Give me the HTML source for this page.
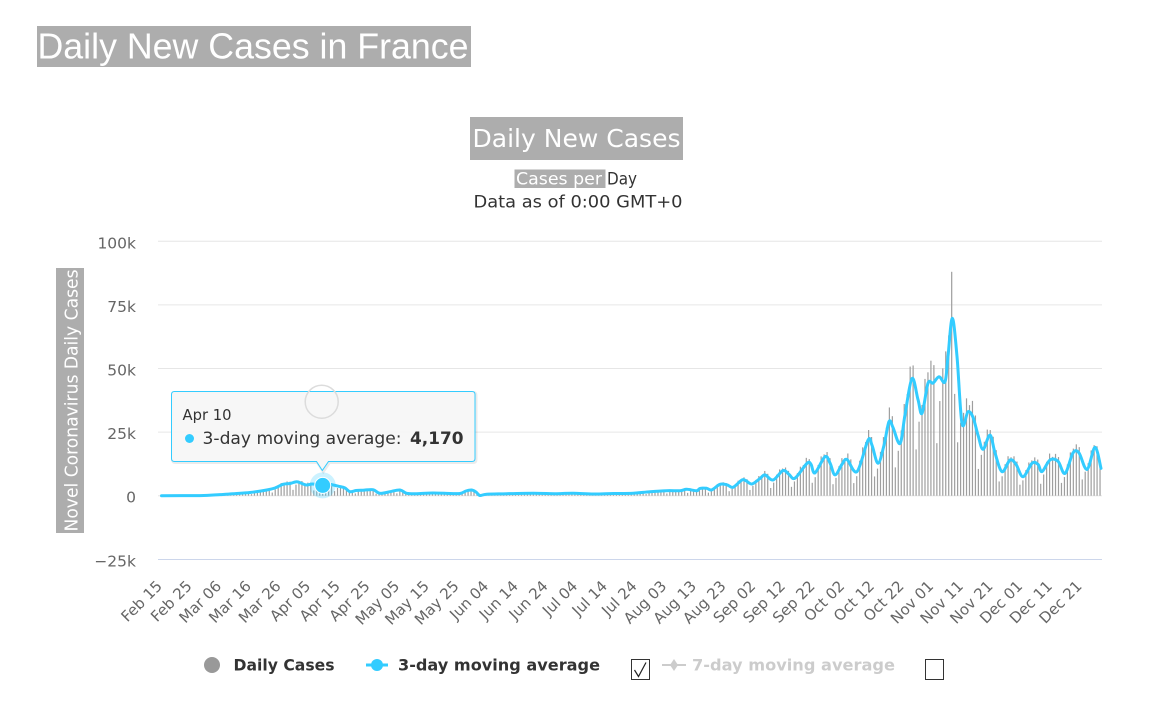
<!DOCTYPE html>
<html><head><meta charset="utf-8">
<style>
html,body{margin:0;padding:0;background:#fff;width:1175px;height:726px;overflow:hidden}
svg{display:block}
text{font-family:"DejaVu Sans","Liberation Sans",sans-serif}
.ax text{font-size:15px;fill:#666}
.yl text{font-size:15.5px;fill:#666}
</style></head><body>
<svg width="1175" height="726" viewBox="0 0 1175 726" xmlns="http://www.w3.org/2000/svg">
<!-- page title -->
<rect x="37" y="26" width="434" height="41" fill="#adadad"/>
<text x="37.5" y="58.5" style="font-family:'Liberation Sans',Arial,sans-serif" font-size="36" fill="#fff" textLength="431" lengthAdjust="spacingAndGlyphs">Daily New Cases in France</text>

<!-- chart title -->
<rect x="470" y="117" width="213" height="43" fill="#adadad"/>
<text x="576.5" y="147" text-anchor="middle" font-size="25" fill="#fff" textLength="208" lengthAdjust="spacingAndGlyphs">Daily New Cases</text>
<rect x="514.5" y="169.5" width="91" height="18.5" fill="#adadad"/>
<text x="516" y="184.5" font-size="16.5" fill="#fff" textLength="86" lengthAdjust="spacingAndGlyphs">Cases per</text>
<text x="607" y="184.5" font-size="16.5" fill="#333" textLength="30" lengthAdjust="spacingAndGlyphs">Day</text>
<text x="473.5" y="207.5" font-size="16.5" fill="#333" textLength="209" lengthAdjust="spacingAndGlyphs">Data as of 0:00 GMT+0</text>

<!-- grid -->
<path d="M158 241.3H1102M158 304.9H1102M158 368.5H1102M158 432.1H1102M158 495.7H1102" stroke="#e6e6e6" stroke-width="1" fill="none"/>
<path d="M158 559.5H1102" stroke="#ccd6eb" stroke-width="1" fill="none"/>

<!-- y labels -->
<g class="yl" text-anchor="end">
<text x="136" y="248.3">100k</text>
<text x="136" y="311.9">75k</text>
<text x="136" y="375.5">50k</text>
<text x="136" y="439.1">25k</text>
<text x="136" y="502.7">0</text>
<text x="136" y="566.5">−25k</text>
</g>

<!-- y title -->
<rect x="56" y="268" width="28" height="265" fill="#adadad"/>
<text transform="translate(77.5,400.5) rotate(-90)" text-anchor="middle" font-size="17.5" fill="#fff" textLength="262" lengthAdjust="spacingAndGlyphs">Novel Coronavirus Daily Cases</text>

<!-- x labels -->
<g class="ax" text-anchor="end">
<text transform="translate(163,587) rotate(-45)">Feb 15</text>
<text transform="translate(192.7,587) rotate(-45)">Feb 25</text>
<text transform="translate(222.3,587) rotate(-45)">Mar 06</text>
<text transform="translate(252,587) rotate(-45)">Mar 16</text>
<text transform="translate(281.7,587) rotate(-45)">Mar 26</text>
<text transform="translate(311.4,587) rotate(-45)">Apr 05</text>
<text transform="translate(341,587) rotate(-45)">Apr 15</text>
<text transform="translate(370.7,587) rotate(-45)">Apr 25</text>
<text transform="translate(400.4,587) rotate(-45)">May 05</text>
<text transform="translate(430,587) rotate(-45)">May 15</text>
<text transform="translate(459.7,587) rotate(-45)">May 25</text>
<text transform="translate(489.4,587) rotate(-45)">Jun 04</text>
<text transform="translate(519,587) rotate(-45)">Jun 14</text>
<text transform="translate(548.7,587) rotate(-45)">Jun 24</text>
<text transform="translate(578.4,587) rotate(-45)">Jul 04</text>
<text transform="translate(608.1,587) rotate(-45)">Jul 14</text>
<text transform="translate(637.7,587) rotate(-45)">Jul 24</text>
<text transform="translate(667.4,587) rotate(-45)">Aug 03</text>
<text transform="translate(697.1,587) rotate(-45)">Aug 13</text>
<text transform="translate(726.7,587) rotate(-45)">Aug 23</text>
<text transform="translate(756.4,587) rotate(-45)">Sep 02</text>
<text transform="translate(786.1,587) rotate(-45)">Sep 12</text>
<text transform="translate(815.7,587) rotate(-45)">Sep 22</text>
<text transform="translate(845.4,587) rotate(-45)">Oct 02</text>
<text transform="translate(875.1,587) rotate(-45)">Oct 12</text>
<text transform="translate(904.8,587) rotate(-45)">Oct 22</text>
<text transform="translate(934.4,587) rotate(-45)">Nov 01</text>
<text transform="translate(964.1,587) rotate(-45)">Nov 11</text>
<text transform="translate(993.8,587) rotate(-45)">Nov 21</text>
<text transform="translate(1023.4,587) rotate(-45)">Dec 01</text>
<text transform="translate(1053.1,587) rotate(-45)">Dec 11</text>
<text transform="translate(1082.8,587) rotate(-45)">Dec 21</text>
</g>

<!-- bars -->
<g id="bars" fill="#9e9e9e"></g>

<!-- 3-day average line -->
<path id="avg" fill="none" stroke="#33ccff" stroke-width="3" stroke-linejoin="round" stroke-linecap="round" d="M161.5,495.7L200,495.6L220,494.6L233,493.8L250,492.5L266.7,490L275,488L283,484.3L290,483.5L296.7,481.7L302,483.5L306.7,485L313,484L322.7,485.4L330,484.5L340,486.6L345,488L350,491.7L356,490.5L363,490.2L373,489.7L380,493.3L390,491.7L400,490L406.7,493.3L416.7,493.7L433,493L450,493.5L460,493.5L466,491L471.7,490L476,492L480,495.5L486.7,494.2L506.7,493.7L533.3,493.2L556.7,493.7L573.3,493.2L593.3,494L613.3,493.5L633.3,493.2L650,491.7L666.7,490.7L680,490.7L686.7,489.3L696.7,490.7L700,488.4L706.7,488.3L711.7,489.9L720,484.3L727,484.8L733,487.3L742,480L746,480.8L752,484L760,478.5L765,474.9L773,480L783,470.6L789,474.4L795,478.2L807,463.3L811,464.3L815,472.9L825,456.7L830,463L835,474.9L842,464.3L847,459.5L857,471.6L868,440.2L872,445.2L878,463.3L884,445.2L889,421.6L893,427.5L900,443.5L905,414.8L912,378.5L918,399.6L922,413.3L928,383.3L933,383.1L939,376.7L945,381.8L948,356.4L952.3,318.3L957,356.4L962,423.4L968,411.7L973,417.3L978,435.1L983,449.3L990,435.1L995,452.9L1002,471.6L1010,460L1016,464.3L1023,476.7L1032,463.3L1038,464.3L1042,471.6L1050,460L1058,461.2L1065,473.4L1073,452.9L1079,452.9L1087,469.4L1095,447.3L1101,468.3"/>

<!-- hover marker -->
<circle cx="322.7" cy="485.4" r="13" fill="#33ccff" fill-opacity="0.25"/>
<circle cx="322.7" cy="485.4" r="8" fill="#33ccff" stroke="#fff" stroke-width="1"/>

<!-- tooltip -->
<path d="M175.5,392.5 H473 Q476,392.5 476,395.5 V459.5 Q476,462.5 473,462.5 H329.5 L323.3,471.5 L317.5,462.5 H175.5 Q172.5,462.5 172.5,459.5 V395.5 Q172.5,392.5 175.5,392.5 Z" fill="none" stroke="#000" stroke-opacity="0.08" stroke-width="3"/>
<path d="M174.5,391.5 H472 Q475,391.5 475,394.5 V458.5 Q475,461.5 472,461.5 H328.5 L322.3,470.5 L316.5,461.5 H174.5 Q171.5,461.5 171.5,458.5 V394.5 Q171.5,391.5 174.5,391.5 Z" fill="#f7f7f7" fill-opacity="0.95" stroke="#33ccff" stroke-width="1"/>
<text x="182.5" y="420" font-size="15" fill="#333" textLength="49" lengthAdjust="spacingAndGlyphs">Apr 10</text>
<circle cx="189.5" cy="438.5" r="4.5" fill="#33ccff"/>
<text x="202.5" y="444" font-size="17" fill="#333" textLength="199" lengthAdjust="spacingAndGlyphs">3-day moving average:</text>
<text x="410" y="444" font-size="17" font-weight="bold" fill="#333" textLength="53.5" lengthAdjust="spacingAndGlyphs">4,170</text>
<circle cx="321.7" cy="401.7" r="16.5" fill="none" stroke="#dcdcdc" stroke-width="1.5"/>

<!-- legend -->
<circle cx="212" cy="665" r="8" fill="#999"/>
<text x="233.5" y="670.5" font-size="16" font-weight="bold" fill="#333" textLength="101" lengthAdjust="spacingAndGlyphs">Daily Cases</text>
<path d="M366 665H388" stroke="#33ccff" stroke-width="3"/>
<circle cx="377" cy="665" r="6" fill="#33ccff"/>
<text x="398" y="670.5" font-size="16" font-weight="bold" fill="#333" textLength="202" lengthAdjust="spacingAndGlyphs">3-day moving average</text>
<rect x="631.5" y="659.5" width="18" height="20" fill="#fff" stroke="#333" stroke-width="1"/>
<path d="M634.5,670 L638.5,676.5 L646,662.5" fill="none" stroke="#222" stroke-width="1.2"/>
<path d="M662 665H686" stroke="#ccc" stroke-width="2"/>
<path d="M674 659 L678 665 L674 671 L670 665 Z" fill="#ccc"/>
<text x="692" y="670.5" font-size="16" font-weight="bold" fill="#ccc" textLength="203" lengthAdjust="spacingAndGlyphs">7-day moving average</text>
<rect x="925.5" y="659.5" width="18" height="20" fill="#fff" stroke="#333" stroke-width="1"/>
</svg>
<script>
(function(){
var NS="http://www.w3.org/2000/svg";
var el=document.getElementById('avg');
var P=el.getAttribute('d').slice(1).split('L').map(function(s){return s.split(',').map(Number);});
function yAt(x){if(x<=P[0][0])return P[0][1];for(var k=1;k<P.length;k++){if(x<=P[k][0]){var a=P[k-1],b=P[k];var t=(x-a[0])/(b[0]-a[0]);return a[1]+t*(b[1]-a[1]);}}return P[P.length-1][1];}
var F=[1.1,1.2,1.15,0.45,0.8,1.1,1.2];
var OV={267:223.9,268:101.8,269:53.4};
var g=document.getElementById('bars');
var base=495.7;
for(var i=0;i<318;i++){
  var x=159.5+2.967*i;
  var h=(base-yAt(x))*F[i%7];
  if(OV[i]!==undefined)h=OV[i];
  if(h<0.4)continue;
  var r=document.createElementNS(NS,'rect');
  r.setAttribute('x',(x-0.6).toFixed(2));
  r.setAttribute('y',(base-h).toFixed(2));
  r.setAttribute('width','1.2');
  r.setAttribute('height',h.toFixed(2));
  g.appendChild(r);
}
var d='M'+P[0][0]+','+P[0][1];
for(var j=0;j<P.length-1;j++){
  var p0=P[j-1]||P[j],p1=P[j],p2=P[j+1],p3=P[j+2]||p2;
  var c1x=p1[0]+(p2[0]-p0[0])/6,c1y=Math.min(base,p1[1]+(p2[1]-p0[1])/6);
  var c2x=p2[0]-(p3[0]-p1[0])/6,c2y=Math.min(base,p2[1]-(p3[1]-p1[1])/6);
  d+='C'+c1x.toFixed(1)+','+c1y.toFixed(1)+' '+c2x.toFixed(1)+','+c2y.toFixed(1)+' '+p2[0]+','+p2[1];
}
el.setAttribute('d',d);
})();
</script>
</body></html>
